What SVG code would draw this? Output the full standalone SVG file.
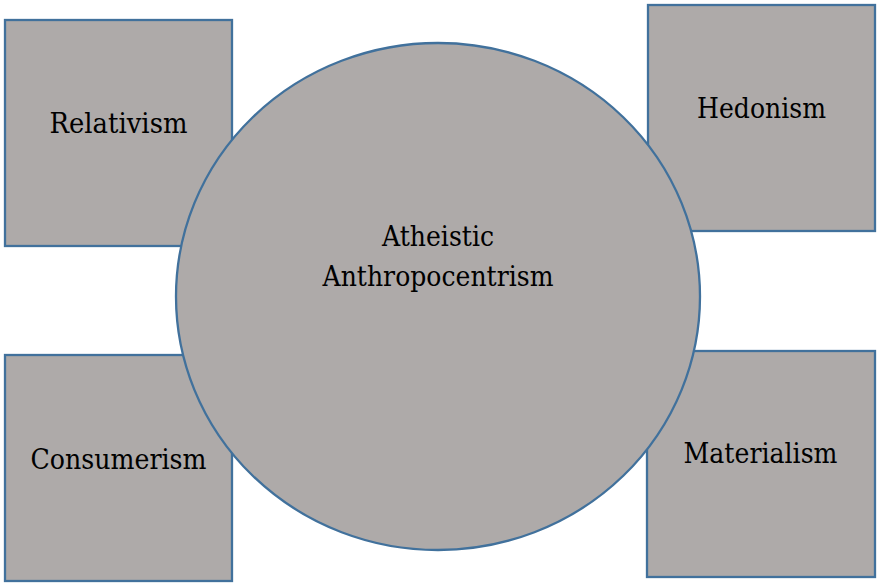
<svg xmlns="http://www.w3.org/2000/svg" width="877" height="585" viewBox="0 0 877 585">
<style>
.shape{fill:#AEAAA9;stroke:#41719C;stroke-width:2.3}
.lbl{font-family:"DejaVu Serif",serif;font-size:27px;fill:#000;text-anchor:middle}
</style>
<rect width="877" height="585" fill="#fff"/>
<g id="relativism"><rect class="shape" x="5" y="20" width="227" height="226"/><text class="lbl" x="118.5" y="133" textLength="138" lengthAdjust="spacingAndGlyphs">Relativism</text></g>
<g id="hedonism"><rect class="shape" x="648" y="5" width="227" height="226"/><text class="lbl" x="761.5" y="117.5" textLength="129" lengthAdjust="spacingAndGlyphs">Hedonism</text></g>
<g id="consumerism"><rect class="shape" x="5" y="355" width="227" height="226"/><text class="lbl" x="118.5" y="468.5" textLength="176" lengthAdjust="spacingAndGlyphs">Consumerism</text></g>
<g id="materialism"><rect class="shape" x="647" y="351" width="228" height="226"/><text class="lbl" x="760.5" y="463" textLength="154" lengthAdjust="spacingAndGlyphs">Materialism</text></g>
<g id="center"><ellipse class="shape" cx="438" cy="296.5" rx="262" ry="253.5"/><text class="lbl" x="438" y="246" textLength="112" lengthAdjust="spacingAndGlyphs">Atheistic</text><text class="lbl" x="438" y="285.5" textLength="231" lengthAdjust="spacingAndGlyphs">Anthropocentrism</text></g>
<g id="connectors"/>
</svg>
